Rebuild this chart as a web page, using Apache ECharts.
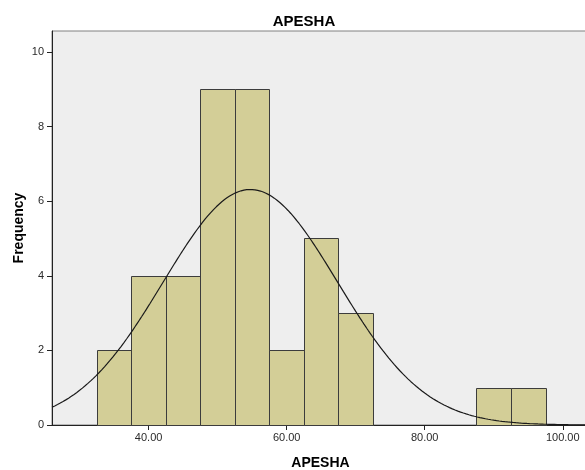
<!DOCTYPE html>
<html>
<head>
<meta charset="utf-8">
<script src="https://cdn.jsdelivr.net/npm/echarts@6/dist/echarts.min.js"></script>
<style>
  html, body { margin: 0; padding: 0; background: #ffffff; }
  #chart { width: 585px; height: 470px; }
</style>
</head>
<body>
<div id="chart"></div>
<script>
// Histogram bins (lower edge, upper edge) and their frequencies
const binLower = [32.5, 37.5, 42.5, 47.5, 52.5, 57.5, 62.5, 67.5, 87.5, 92.5];
const binUpper = [37.5, 42.5, 47.5, 52.5, 57.5, 62.5, 67.5, 72.5, 92.5, 97.5];
const frequencies = [2, 4, 4, 9, 9, 2, 5, 3, 1, 1];

// Fitted normal curve parameters
const curveMean = 54.74;
const curveStdDev = 12.64;
const sampleSize = 40;
const binWidth = 5;

// Axis ticks
const xTicks = [40, 60, 80, 100];
const yTicks = [0, 2, 4, 6, 8, 10];

const xMin = 26.0, xMax = 103.8;
const yMin = 0, yMax = 10.56;

// Normal density scaled to counts per bin
const curvePoints = [];
for (let x = xMin; x <= xMax + 1e-9; x += 0.2) {
  const z = (x - curveMean) / curveStdDev;
  const y = sampleSize * binWidth / (curveStdDev * Math.sqrt(2 * Math.PI)) * Math.exp(-0.5 * z * z);
  curvePoints.push([x, y]);
}

const barData = frequencies.map((f, i) => [binLower[i], binUpper[i], f]);

const font = '"Liberation Sans", Arial, sans-serif';
const chart = echarts.init(document.getElementById('chart'), null, { renderer: 'canvas' });

chart.setOption({
  animation: false,
  backgroundColor: '#ffffff',
  title: {
    text: 'APESHA',
    left: 299,
    top: 9,
    textAlign: 'center',
    textStyle: { fontFamily: font, fontSize: 15, fontWeight: 'bold', color: '#000' }
  },
  grid: {
    left: 52, top: 31, width: 537, height: 394,
    containLabel: false,
    outerBoundsMode: 'none',
    show: true, backgroundColor: '#eeeeee', borderColor: '#808080', borderWidth: 1
  },
  xAxis: {
    type: 'value',
    min: xMin, max: xMax,
    name: 'APESHA',
    nameLocation: 'middle',
    nameGap: 31,
    nameTextStyle: { fontFamily: font, fontSize: 14, fontWeight: 'bold', color: '#000' },
    axisLine: { lineStyle: { color: '#222', width: 1 } },
    axisTick: { show: true, customValues: xTicks, length: 5, lineStyle: { color: '#222' } },
    axisLabel: {
      customValues: xTicks, margin: 7,
      fontFamily: font, fontSize: 11, color: '#2a2a2a',
      formatter: v => v.toFixed(2)
    },
    splitLine: { show: false }
  },
  yAxis: {
    type: 'value',
    min: yMin, max: yMax,
    name: 'Frequency',
    nameLocation: 'middle',
    nameGap: 26,
    nameRotate: 90,
    nameMoveOverlap: false,
    nameTextStyle: { fontFamily: font, fontSize: 14, fontWeight: 'bold', color: '#000' },
    axisLine: { show: true, lineStyle: { color: '#222', width: 1 } },
    axisTick: { show: true, customValues: yTicks, length: 5, lineStyle: { color: '#222' } },
    axisLabel: {
      customValues: yTicks, margin: 8,
      fontFamily: font, fontSize: 11, color: '#2a2a2a'
    },
    splitLine: { show: false }
  },
  series: [
    {
      type: 'custom',
      data: barData,
      encode: { x: [0, 1], y: 2 },
      renderItem: function (params, api) {
        const p0 = api.coord([api.value(0), api.value(2)]);
        const p1 = api.coord([api.value(1), 0]);
        const x0 = Math.round(p0[0]) + 0.5, x1 = Math.round(p1[0]) + 0.5;
        const y0 = Math.round(p0[1]) + 0.5, y1 = Math.round(p1[1]) + 0.5;
        return {
          type: 'rect',
          shape: { x: x0, y: y0, width: x1 - x0, height: y1 - y0 },
          style: { fill: '#d3ce97', stroke: '#3c3c3c', lineWidth: 1 }
        };
      },
      z: 2
    },
    {
      type: 'line',
      data: curvePoints,
      showSymbol: false,
      smooth: false,
      lineStyle: { color: '#1a1a1a', width: 1.2 },
      z: 3
    }
  ]
});
</script>
</body>
</html>
